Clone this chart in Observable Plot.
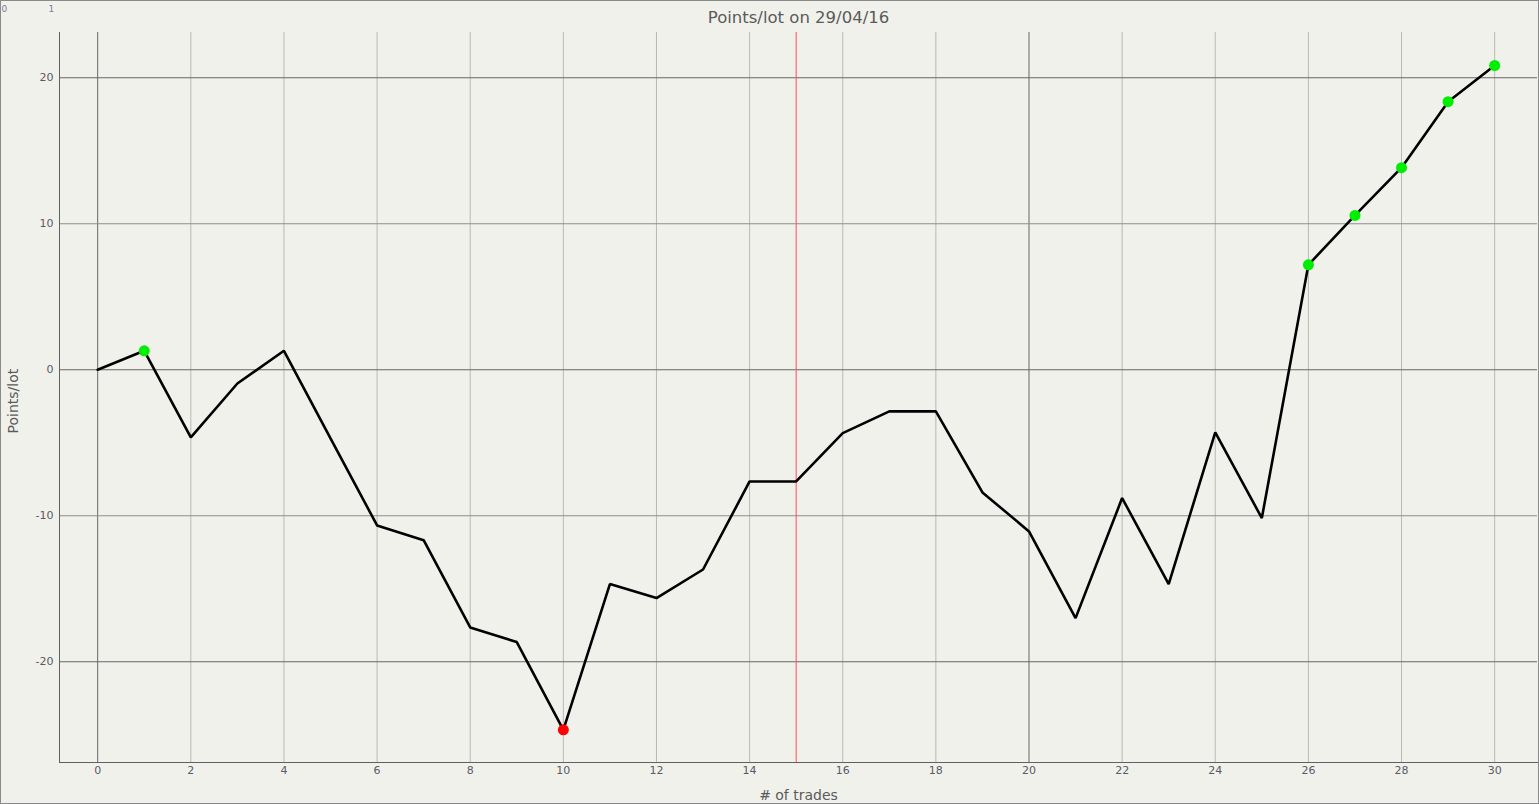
<!DOCTYPE html>
<html>
<head>
<meta charset="utf-8">
<script src="https://cdn.jsdelivr.net/npm/d3@7"></script>
<script src="https://cdn.jsdelivr.net/npm/@observablehq/plot@0.6"></script>
<style>
  html, body { margin: 0; padding: 0; background: #f1f1ec; }
  #chart { position: relative; width: 1537px; height: 802px; border: 1px solid #8a8a8a; overflow: hidden; }
  #chart svg { display: block; }
</style>
</head>
<body>
<div id="chart"></div>
<script>
// trade number and cumulative points/lot
const trades = [0, 1, 2, 3, 4, 5, 6, 7, 8, 9, 10, 11, 12, 13, 14, 15, 16, 17, 18, 19, 20, 21, 22, 23, 24, 25, 26, 27, 28, 29, 30]
const points = [0, 1.3, -4.63, -0.94, 1.3, -4.7, -10.66, -11.67, -17.65, -18.65, -24.66, -14.68, -15.64, -13.68, -7.65, -7.65,
  -4.34, -2.85, -2.85, -8.4, -11.07, -17.01, -8.79, -14.68, -4.29, -10.16, 7.19, 10.57, 13.84, 18.36, 20.84]
// new highs (green) and the low (red)
const highTrades = [1, 26, 27, 28, 29, 30]
const lowTrades = [10]

const xTicks = [0, 2, 4, 6, 8, 10, 12, 14, 16, 18, 20, 22, 24, 26, 28, 30]
const yTicks = [-20, -10, 0, 10, 20]
const xMajor = [0, 20]
const yMajor = [-20, 0, 20]
const marker = [15]

const data = trades.map((t, i) => ({trade: t, pts: points[i]}))
const highs = data.filter(d => highTrades.includes(d.trade))
const lows = data.filter(d => lowTrades.includes(d.trade))

const font = "'DejaVu Sans', Verdana, sans-serif"

let chart = Plot.plot({
  width: 1537,
  height: 802,
  marginLeft: 58,
  marginRight: 1,
  marginTop: 31,
  marginBottom: 41,
  style: {background: "#f1f1ec", fontFamily: font, fontSize: "11px", color: "#5a5a66"},
  x: {domain: [-0.82, 30.92]},
  y: {domain: [-26.9, 23.1]},
  marks: [
    Plot.ruleX(xTicks.filter(d => !xMajor.includes(d)), {stroke: "#b9b9b5", strokeOpacity: 1}),
    Plot.ruleX(xMajor, {stroke: "#666", strokeOpacity: 1}),
    Plot.ruleY([-10, 10], {stroke: "#8c8c8a", strokeOpacity: 1}),
    Plot.ruleY(yMajor, {stroke: "#666", strokeOpacity: 1}),
    Plot.ruleX(marker, {stroke: "#ff4d5e", strokeOpacity: 1}),
    Plot.axisX({ticks: xTicks, tickSize: 0, tickPadding: 4, label: null, tickFormat: d => d}),
    Plot.axisY({ticks: yTicks, tickSize: 0, tickPadding: 6, label: null, tickFormat: d => d}),
    Plot.frame({anchor: "left", stroke: "#606060"}),
    Plot.frame({anchor: "bottom", stroke: "#606060"}),
    Plot.line(data, {x: "trade", y: "pts", stroke: "black", strokeWidth: 2.6, strokeLinejoin: "miter"}),
    Plot.dot(highs, {x: "trade", y: "pts", r: 5.5, fill: "#00ee00"}),
    Plot.dot(lows, {x: "trade", y: "pts", r: 5.5, fill: "#ff0000"}),
    Plot.text(["Points/lot on 29/04/16"], {frameAnchor: "top", dy: -21, fontSize: 16.5, fill: "#5a5a5a"}),
    Plot.text(["# of trades"], {frameAnchor: "bottom", dy: 37, fontSize: 14, fill: "#5a5a5a"}),
    Plot.text(["Points/lot"], {frameAnchor: "left", dx: -46, dy: 36, rotate: -90, fontSize: 14, fill: "#5a5a5a"}),
    Plot.text(["0"], {frameAnchor: "top-left", dx: -58, dy: -27, fontSize: 9, fill: "#7a7a9a"}),
    Plot.text(["1"], {frameAnchor: "top-left", dx: -11, dy: -27, fontSize: 9, fill: "#7a7a9a"})
  ]
})

d3.select('#chart').append(() => chart)
</script>
</body>
</html>
